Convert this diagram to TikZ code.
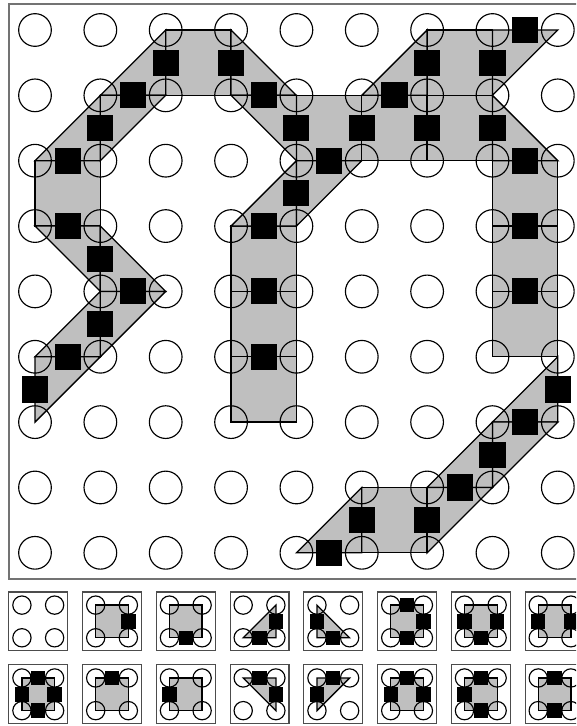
\documentclass[tikz,border=0pt]{standalone}
\usepackage{xcolor}
\usepackage{tikz}
\tikzset{
    cell/.style={fill=gray!50, draw=black, line width=0.55pt},
    dot/.style={draw=black, line width=0.5pt},
    hit/.style={fill=black},
    case/.style 2 args={shift={({0.05+1.1286*#1},{9.05+1.115*#2})}}
}

\begin{document}
\begin{tikzpicture}[x=1cm, y=-1cm]
    \useasboundingbox (-0.5356,-0.459) rectangle (8.2785,10.65);
    \clip (-0.5356,-0.459) rectangle (8.2785,10.65);
    % filled cells of the grid
    \foreach \i/\j in {2/0,6/0,4/1,5/1,6/1,0/2,7/2,3/3,7/3,3/4,7/4,3/5,5/7}
        \draw[cell] (\i,\j) rectangle ++(1,1);
    \foreach \a/\b/\c/\d/\e/\f in {1/1/2/0/2/1, 1/1/2/1/1/2, 0/2/1/1/1/2, 3/0/3/1/4/1,
            3/1/4/1/4/2, 3/3/4/2/4/3, 4/2/5/2/4/3, 0/3/1/3/1/4, 1/3/1/4/2/4, 1/4/2/4/1/5,
            0/5/1/4/1/5, 0/5/1/5/0/6, 5/1/6/0/6/1, 7/0/8/0/7/1, 7/1/7/2/8/2, 7/6/8/5/8/6,
            7/6/8/6/7/7, 6/7/7/6/7/7, 6/7/7/7/6/8, 4/8/5/7/5/8}
        \draw[cell] (\a,\b) -- (\c,\d) -- (\e,\f) -- cycle;
    \foreach \i in {0,...,8}
        \foreach \j in {0,...,8}
            \draw[dot] (\i,\j) circle (0.25);
    % crossed edges
    \foreach \x/\y in {2/0.5, 3/0.5, 1.5/1, 3.5/1, 1/1.5, 4/1.5, 0.5/2, 4.5/2, 4/2.5,
            0.5/3, 1/3.5, 1.5/4, 1/4.5, 0.5/5, 0/5.5, 3.5/3, 3.5/4, 3.5/5,
            7.5/0, 6/0.5, 7/0.5, 5.5/1, 5/1.5, 6/1.5, 7/1.5, 7.5/2, 7.5/3, 7.5/4,
            8/5.5, 7.5/6, 7/6.5, 6.5/7, 6/7.5, 5/7.5, 4.5/8}
        \fill[hit] ({\x-0.2},{\y-0.2}) rectangle ++(0.4,0.4);
    \draw[black!55, line width=0.7pt] (-0.4,-0.4) rectangle (8.4,8.4);
    % the sixteen cases
    \foreach \i in {0,...,7}
        \foreach \j in {0,1}
            \draw[case={\i}{\j}, black!70, line width=0.5pt] (-0.45,-0.45) rectangle (0.45,0.45);
    \foreach \i/\j in {1/0,2/0,5/0,6/0,7/0,0/1,1/1,2/1,5/1,6/1,7/1}
        \draw[cell, case={\i}{\j}] (-0.25,-0.25) rectangle (0.25,0.25);
    \foreach \i/\j/\a/\b/\c/\d/\e/\f in {3/0/-1/1/1/-1/1/1, 4/0/-1/-1/-1/1/1/1,
            3/1/-1/-1/1/-1/1/1, 4/1/-1/-1/1/-1/-1/1}
        \draw[cell, case={\i}{\j}] (0.25*\a,0.25*\b) -- (0.25*\c,0.25*\d) -- (0.25*\e,0.25*\f) -- cycle;
    \foreach \i in {0,...,7}
        \foreach \j in {0,1}
            \foreach \a/\b in {-1/-1,1/-1,-1/1,1/1}
                \draw[dot, case={\i}{\j}] (0.25*\a,0.25*\b) circle (0.14);
    \foreach \i/\j/\a/\b in {1/0/1/0, 2/0/0/1, 3/0/0/1, 3/0/1/0, 4/0/-1/0, 4/0/0/1,
            5/0/0/-1, 5/0/1/0, 5/0/0/1, 6/0/-1/0, 6/0/1/0, 6/0/0/1, 7/0/-1/0, 7/0/1/0,
            0/1/0/-1, 0/1/1/0, 0/1/0/1, 0/1/-1/0, 1/1/0/-1, 2/1/-1/0, 3/1/0/-1, 3/1/1/0,
            4/1/0/-1, 4/1/-1/0, 5/1/0/-1, 5/1/-1/0, 5/1/1/0, 6/1/0/-1, 6/1/-1/0, 6/1/0/1,
            7/1/0/-1, 7/1/0/1}
        \fill[hit, case={\i}{\j}] ({0.25*\a-0.11},{0.25*\b-0.11}) rectangle ++(0.22,0.22);
\end{tikzpicture}
\end{document}
